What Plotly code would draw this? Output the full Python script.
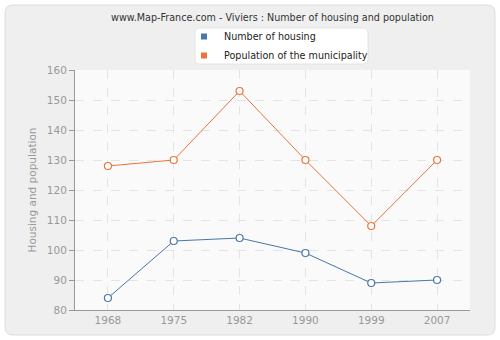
import plotly.graph_objects as go

years = ["1968", "1975", "1982", "1990", "1999", "2007"]
housing = [84, 103, 104, 99, 89, 90]
population = [128, 130, 153, 130, 108, 130]
series_names = ["Number of housing", "Population of the municipality"]
colors = ["#4a76a8", "#e8743b"]

W, H = 500, 340
L, R, T, B = 75, 30, 70, 30
pw, ph = W - L - R, H - T - B

def px(x):
    return (x - L) / pw

def py(y):
    return (H - B - y) / ph

fig = go.Figure()
for name, vals, c in zip(series_names, [housing, population], colors):
    fig.add_trace(go.Scatter(
        x=years, y=vals, mode="lines+markers", name=name, showlegend=False,
        line=dict(color=c, width=1),
        marker=dict(symbol="circle", size=7, color="white", line=dict(color=c, width=1.2)),
        hoverinfo="x+y",
    ))
for name, c in zip(series_names, colors):
    fig.add_trace(go.Scatter(
        x=[None], y=[None], mode="markers", name=name,
        marker=dict(symbol="square", size=6, color=c),
    ))

# outer rounded panel
x0, y0, x1, y1, r = px(5), py(335), px(495), py(5), 8
rx, ry = r / pw, r / ph
path = (f"M {x0+rx},{y0} L {x1-rx},{y0} Q {x1},{y0} {x1},{y0+ry} L {x1},{y1-ry} "
        f"Q {x1},{y1} {x1-rx},{y1} L {x0+rx},{y1} Q {x0},{y1} {x0},{y1-ry} "
        f"L {x0},{y0+ry} Q {x0},{y0} {x0+rx},{y0} Z")
fig.add_shape(type="path", path=path, xref="paper", yref="paper",
              fillcolor="#efefef", line=dict(color="#dddddd", width=1), layer="below")
fig.add_shape(type="rect", x0=0, x1=1, y0=0, y1=1, xref="paper", yref="paper",
              fillcolor="#fafafa", line=dict(width=0), layer="below")
# legend box (rounded white)
lx0, lx1, ly0, ly1, lr = px(195), px(368), py(64), py(28), 5
lrx, lry = lr / pw, lr / ph
lpath = (f"M {lx0+lrx},{ly0} L {lx1-lrx},{ly0} Q {lx1},{ly0} {lx1},{ly0+lry} L {lx1},{ly1-lry} "
         f"Q {lx1},{ly1} {lx1-lrx},{ly1} L {lx0+lrx},{ly1} Q {lx0},{ly1} {lx0},{ly1-lry} "
         f"L {lx0},{ly0+lry} Q {lx0},{ly0} {lx0+lrx},{ly0} Z")
fig.add_shape(type="path", path=lpath, xref="paper", yref="paper",
              fillcolor="white", line=dict(color="#e4e4e4", width=1), layer="below")

fig.update_layout(
    width=W, height=H,
    margin=dict(l=L, r=R, t=T, b=B, autoexpand=False),
    paper_bgcolor="white",
    plot_bgcolor="rgba(0,0,0,0)",
    font=dict(family="DejaVu Sans", size=10.5, color="#999999"),
    title=dict(text="www.Map-France.com - Viviers : Number of housing and population",
               x=0.5, xref="paper", xanchor="center", y=1 - 18 / H, yanchor="middle",
               font=dict(family="DejaVu Sans", size=9.6, color="#333333")),
    legend=dict(x=px(184), xanchor="left", y=1 - 22 / H, yref="container", yanchor="top",
                bgcolor="rgba(0,0,0,0)", borderwidth=0,
                font=dict(family="DejaVu Sans", size=9.6, color="#222222"),
                tracegroupgap=0, itemwidth=30),
    showlegend=True,
    xaxis=dict(type="category", range=[-0.5, 5.5], showgrid=True,
               gridcolor="#e4e4e4", griddash="dash", gridwidth=1,
               showline=True, linecolor="#999999", linewidth=1,
               ticks="", tickfont=dict(size=10.5, color="#999999"), zeroline=False,
               fixedrange=True),
    yaxis=dict(range=[80, 160], dtick=10, showgrid=True,
               gridcolor="#e4e4e4", griddash="dash", gridwidth=1,
               showline=True, linecolor="#999999", linewidth=1,
               ticks="outside", ticklen=5, tickcolor="#999999",
               tickfont=dict(size=10.5, color="#999999"), zeroline=False,
               title=dict(text="Housing and population", font=dict(size=10.5, color="#999999"),
                          standoff=8),
               fixedrange=True),
)

fig.write_html("out.html")
